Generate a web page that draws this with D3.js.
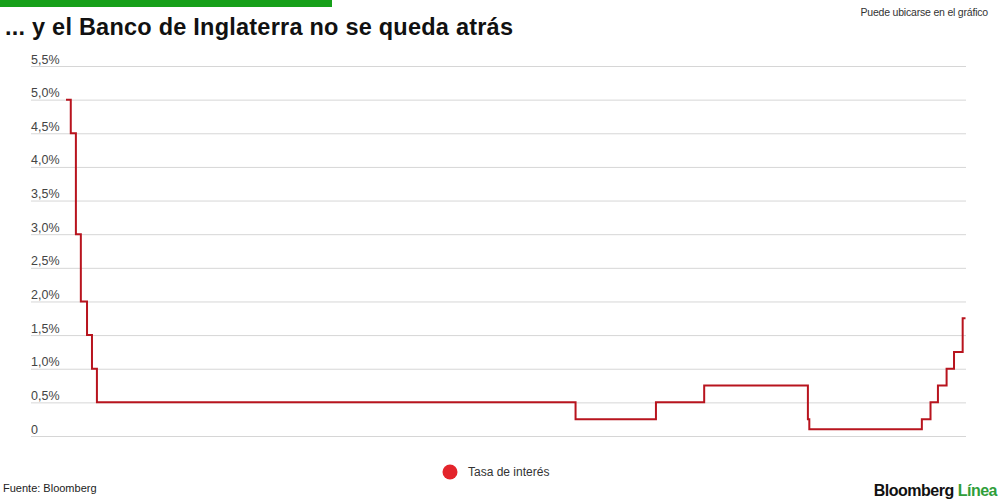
<!DOCTYPE html>
<html><head><meta charset="utf-8">
<script src="https://cdn.jsdelivr.net/npm/d3@7"></script>
<style>
body{margin:0;background:#fff;}
svg{display:block;font-family:"Liberation Sans",Arial,sans-serif;}
</style></head>
<body><svg id="c" width="1000" height="500"></svg>
<script>
// Data: Bank of England policy rate (%), step changes
const dates = ["2008-09-11","2008-10-08","2008-11-06","2008-12-04","2009-01-08","2009-02-05","2009-03-05",
  "2016-08-04","2017-11-02","2018-08-02","2020-03-11","2020-03-19","2021-12-16","2022-02-03",
  "2022-03-17","2022-05-05","2022-06-16","2022-08-04","2022-08-20"];
const rates = [5.0,4.5,3.0,2.0,1.5,1.0,0.5,0.25,0.5,0.75,0.25,0.1,0.25,0.5,0.75,1.0,1.25,1.75,1.75];
const tickValues = [0,0.5,1,1.5,2,2.5,3,3.5,4,4.5,5,5.5];
const tickLabels = ["0","0,5%","1,0%","1,5%","2,0%","2,5%","3,0%","3,5%","4,0%","4,5%","5,0%","5,5%"];
const seriesName = "Tasa de interés";
const title = "... y el Banco de Inglaterra no se queda atrás";

const parse = d3.timeParse("%Y-%m-%d");
const data = dates.map((d,i)=>({date:parse(d), v:rates[i]}));

const svg = d3.select("#c");
const x = d3.scaleTime().domain(d3.extent(data,d=>d.date)).range([66,965.5]);
const y = d3.scaleLinear().domain([0,5.5]).range([436,66]);

// top green bar
svg.append("rect").attr("x",0).attr("y",0).attr("width",332).attr("height",7).attr("fill","#16a01a");

// title
svg.append("text").attr("x",5).attr("y",35).attr("font-size",23.5).attr("font-weight","bold")
  .attr("fill","#111").attr("textLength",508).attr("lengthAdjust","spacing").text(title);

svg.append("text").attr("x",988).attr("y",16).attr("text-anchor","end").attr("font-size",10.5)
  .attr("fill","#333").attr("letter-spacing","-0.2").text("Puede ubicarse en el gráfico");

// grid + labels
const axis = d3.axisLeft(y).tickValues(tickValues).tickSize(-(966-31))
  .tickFormat((d,i)=>tickLabels[i]);
const g = svg.append("g").attr("transform","translate(31,0)").call(axis);
g.select(".domain").remove();
g.selectAll(".tick line").attr("stroke","#d6d6d6").attr("stroke-width",1);
g.selectAll(".tick text").attr("x",0).attr("dy",0).attr("y",-3).attr("text-anchor","start")
  .attr("font-size",12.5).attr("fill","#444").attr("font-family","Liberation Sans,Arial,sans-serif");

// line
const line = d3.line().x(d=>x(d.date)).y(d=>y(d.v)).curve(d3.curveStepAfter);
svg.append("path").datum(data).attr("d",line).attr("fill","none")
  .attr("stroke","#b8141e").attr("stroke-width",2).attr("stroke-linejoin","miter");

// legend
svg.append("circle").attr("cx",450).attr("cy",472).attr("r",7.5).attr("fill","#e3242b");
svg.append("text").attr("x",468).attr("y",476).attr("font-size",12).attr("fill","#333").text(seriesName);

// footer
svg.append("text").attr("x",3).attr("y",492).attr("font-size",11).attr("fill","#222").text("Fuente: Bloomberg");
const logo = svg.append("text").attr("x",997).attr("y",496).attr("text-anchor","end")
  .attr("font-size",16).attr("font-weight","bold").attr("letter-spacing","-0.5");
logo.append("tspan").attr("fill","#111").text("Bloomberg ");
logo.append("tspan").attr("fill","#2f9e3a").text("Línea");
</script></body></html>
